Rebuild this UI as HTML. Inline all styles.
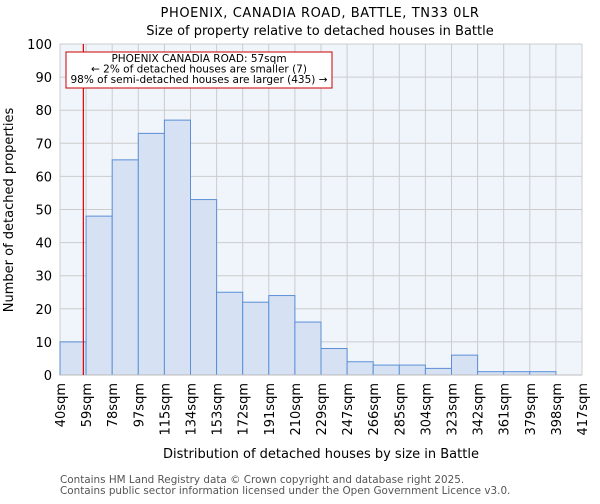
<!DOCTYPE html>
<html><head><meta charset="utf-8"><style>
body{margin:0;background:#fff;font-family:"DejaVu Sans","Liberation Sans",sans-serif;}
</style></head><body>
<svg id="chart" width="600" height="500" xmlns="http://www.w3.org/2000/svg" font-family="DejaVu Sans, Liberation Sans, sans-serif">
<text x="320" y="17" text-anchor="middle" font-size="13" letter-spacing="0.6">PHOENIX, CANADIA ROAD, BATTLE, TN33 0LR</text>
<text x="320" y="35" text-anchor="middle" font-size="13">Size of property relative to detached houses in Battle</text>
<rect x="60" y="44" width="522" height="331" fill="#f0f4fb"/>
<g id="grid"></g>
<g id="bars"></g>
<g id="axes"></g>
<text transform="translate(13,210) rotate(-90)" text-anchor="middle" font-size="13">Number of detached properties</text>
<text x="321" y="458" text-anchor="middle" font-size="13">Distribution of detached houses by size in Battle</text>
<text x="60" y="483" font-size="10.4" fill="#555">Contains HM Land Registry data © Crown copyright and database right 2025.</text>
<text x="60" y="494" font-size="10.4" fill="#555">Contains public sector information licensed under the Open Government Licence v3.0.</text>
</svg>
<script>
const binLabels=["40sqm","59sqm","78sqm","97sqm","115sqm","134sqm","153sqm","172sqm","191sqm","210sqm","229sqm","247sqm","266sqm","285sqm","304sqm","323sqm","342sqm","361sqm","379sqm","398sqm","417sqm"];
const binEdges=[40,59,78,97,115,134,153,172,191,210,229,247,266,285,304,323,342,361,379,398,417];
const counts=[10,48,65,73,77,53,25,22,24,16,8,4,3,3,2,6,1,1,1,0];
const yTicks=[0,10,20,30,40,50,60,70,80,90,100];
const propertySize=57;
const annotationLines=["PHOENIX CANADIA ROAD: 57sqm","← 2% of detached houses are smaller (7)","98% of semi-detached houses are larger (435) →"];
const NS="http://www.w3.org/2000/svg";
const X0=60,X1=582,Y0=375,Y1=44,YMAX=100;
const nb=counts.length,bw=(X1-X0)/nb;
function xi(i){return X0+i*bw;}
function xv(v){for(let i=0;i<binEdges.length-1;i++){if(v<=binEdges[i+1]){return xi(i)+(v-binEdges[i])/(binEdges[i+1]-binEdges[i])*bw;}}return X1;}
function y(v){return Y0-(v/YMAX)*(Y0-Y1);}
function mk(t,a,p){const e=document.createElementNS(NS,t);for(const k in a)e.setAttribute(k,a[k]);p.appendChild(e);return e;}
const grid=document.getElementById('grid'),bars=document.getElementById('bars'),axes=document.getElementById('axes');
yTicks.forEach(t=>{const l=mk('line',{x1:X0,x2:X1,y1:y(t),y2:y(t),stroke:'#cccccc','stroke-width':1},grid);


const tx=mk('text',{x:X0-8,y:y(t)+5,'text-anchor':'end','font-size':13},axes);tx.textContent=t;

});
binLabels.forEach((lab,i)=>{const l=mk('line',{x1:xi(i),x2:xi(i),y1:Y1,y2:Y0,stroke:'#cccccc','stroke-width':1},grid);


const tx=mk('text',{transform:`translate(${xi(i)+5},${Y0+8}) rotate(-90)`,'text-anchor':'end','font-size':13},axes);tx.textContent=lab;

});
counts.forEach((c,i)=>{if(c<=0)return;const r=mk('rect',{x:xi(i),y:y(c),width:bw,height:Y0-y(c),fill:'#d6e2f3',stroke:'#5b8fd6','stroke-width':1},bars);

});
const ax=mk('line',{x1:X0,x2:X1,y1:Y0,y2:Y0,stroke:'#bbbbbb','stroke-width':1},axes);


const px=xv(propertySize);
const ml=mk('line',{x1:px,x2:px,y1:Y1,y2:Y0,stroke:'#dd0000','stroke-width':1.2},axes);


const box=mk('rect',{x:66,y:52,width:266,height:36,fill:'#fff',stroke:'#cc0000','stroke-width':1},axes);


annotationLines.forEach((s,i)=>{const t=mk('text',{x:199,y:62+i*10.5,'text-anchor':'middle','font-size':10.5},axes);t.textContent=s;

});
</script>
</body></html>
